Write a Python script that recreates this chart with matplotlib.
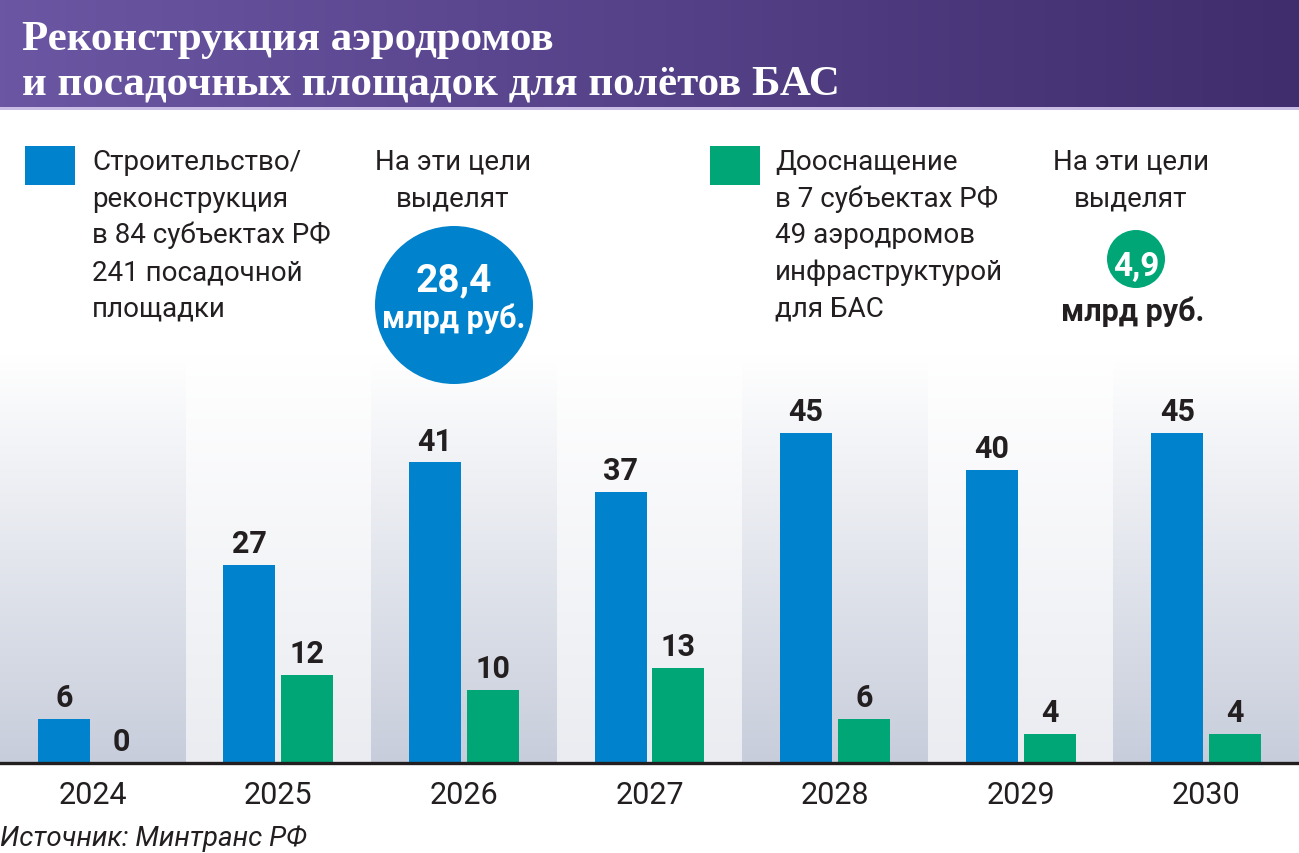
import numpy as np
import matplotlib.pyplot as plt
from matplotlib.colors import LinearSegmentedColormap
from matplotlib.patches import Circle, Rectangle

W, H = 1299, 854

years = ['2024', '2025', '2026', '2027', '2028', '2029', '2030']
build = [6, 27, 41, 37, 45, 40, 45]   # строительство/реконструкция
equip = [0, 12, 10, 13, 6, 4, 4]      # дооснащение

title_lines = ['Реконструкция аэродромов', 'и посадочных площадок для полётов БАС']
blue_legend = ['Строительство/', 'реконструкция', 'в 84 субъектах РФ',
               '241 посадочной', 'площадки']
green_legend = ['Дооснащение', 'в 7 субъектах РФ', '49 аэродромов',
                'инфраструктурой', 'для БАС']
goal_lines = ['На эти цели', 'выделят']
blue_total = '28,4'
green_total = '4,9'
unit = 'млрд руб.'
source = 'Источник: Минтранс РФ'

BLUE = '#0083cc'
GREEN = '#00a676'
DARK = '#231f20'
SANS = ['Roboto', 'DejaVu Sans']
SERIF = ['Liberation Serif', 'DejaVu Serif']

plt.rcParams['font.family'] = SANS

fig = plt.figure(figsize=(W / 100, H / 100), dpi=100)

# main bar axes: baseline at y=764 px, top of stripes at y=355 px
y_top, y_base = 355, 764
ax = fig.add_axes([0, 1 - y_base / H, 1, (y_base - y_top) / H])
px_per_unit = 7.33
ymax = (y_base - y_top) / px_per_unit
n = len(years)
ax.set_xlim(-0.5, n - 0.5)
ax.set_ylim(0, ymax)

dark_cm = LinearSegmentedColormap.from_list('d', ['#c7cddb', '#ffffff'])
light_cm = LinearSegmentedColormap.from_list('l', ['#eaecf1', '#ffffff'])
grad = np.linspace(0, 1, 256).reshape(-1, 1)
for i in range(n):
    cm = dark_cm if i % 2 == 0 else light_cm
    ax.imshow(grad, cmap=cm, origin='lower', aspect='auto',
              extent=(i - 0.5, i + 0.5, 0, ymax), zorder=0)

x = np.arange(n)
bw = 0.28
off = 0.156
ax.bar(x - off, build, bw, color=BLUE, zorder=2)
ax.bar(x + off, equip, bw, color=GREEN, zorder=2)
for xi, b, e in zip(x, build, equip):
    ax.annotate(str(b), (xi - off, b), xytext=(0, 5), textcoords='offset points',
                ha='center', va='bottom', fontsize=22, fontweight='bold', color=DARK)
    ax.annotate(str(e), (xi + off, e), xytext=(0, 5), textcoords='offset points',
                ha='center', va='bottom', fontsize=22, fontweight='bold', color=DARK)

ax.axhline(0, color=DARK, lw=2.4, zorder=3, clip_on=False)
ax.set_xticks(x)
ax.set_xticklabels(years, fontsize=22, color=DARK)
ax.tick_params(axis='x', length=0, pad=12)
ax.set_yticks([])
for s in ax.spines.values():
    s.set_visible(False)

# overlay axes in pixel coordinates
ov = fig.add_axes([0, 0, 1, 1], zorder=5)
ov.axis('off')
ov.patch.set_alpha(0)

# header band
head_cm = LinearSegmentedColormap.from_list('h', ['#6b56a3', '#3f2d6d'])
ov.imshow(np.linspace(0, 1, 256).reshape(1, -1), cmap=head_cm, aspect='auto',
          extent=(0, W, 108, 0), zorder=0)
ov.add_patch(Rectangle((0, 108), W, 3, color='#c9bde6', lw=0, zorder=1))
ov.set_xlim(0, W)
ov.set_ylim(H, 0)

for j, line in enumerate(title_lines):
    ov.text(22, 50 + j * 44, line, family=SERIF, fontweight='bold', fontsize=31,
            color='white', ha='left', va='baseline')

# legend blocks
ov.add_patch(Rectangle((25, 147), 50, 39, color=BLUE, lw=0))
ov.add_patch(Rectangle((710, 147), 50, 39, color=GREEN, lw=0))
for j, (a, b) in enumerate(zip(blue_legend, green_legend)):
    yb = 170 + j * 36.7
    ov.text(92, yb, a, fontsize=20, color=DARK, ha='left', va='baseline')
    ov.text(775, yb, b, fontsize=20, color=DARK, ha='left', va='baseline')

for j, line in enumerate(goal_lines):
    yb = 170 + j * 36.7
    ov.text(453, yb, line, fontsize=20, color=DARK, ha='center', va='baseline')
    ov.text(1131, yb, line, fontsize=20, color=DARK, ha='center', va='baseline')

ov.add_patch(Circle((454, 306), 79, color=BLUE, lw=0))
ov.text(454, 291, blue_total, fontsize=28, fontweight='bold', color='white',
        ha='center', va='baseline')
ov.text(454, 328, unit, fontsize=22, fontweight='bold', color='white',
        ha='center', va='baseline')

ov.add_patch(Circle((1136, 260), 29, color=GREEN, lw=0))
ov.text(1136, 276, green_total, fontsize=24, fontweight='bold', color='white',
        ha='center', va='baseline')
ov.text(1133, 321, unit, fontsize=22, fontweight='bold', color=DARK,
        ha='center', va='baseline')

ov.text(0, 846, source, fontsize=20, style='italic', color=DARK,
        ha='left', va='baseline')

fig.savefig('out.png', dpi=100)
